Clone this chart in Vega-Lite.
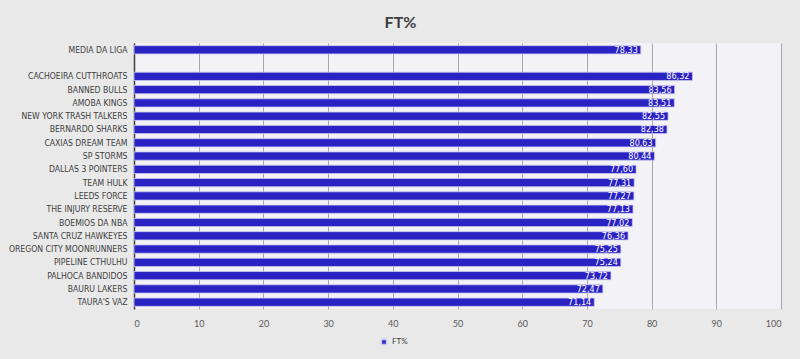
{
  "$schema": "https://vega.github.io/schema/vega-lite/v6.json",
  "autosize": {"type": "none"},
  "width": 647,
  "height": 266,
  "padding": {"left": 134, "top": 43, "right": 19, "bottom": 50},
  "background": "#e9e9e9",
  "config": {
    "locale": {"number": {"decimal": ",", "thousands": ".", "grouping": [3], "currency": ["", ""]}},
    "font": "Lato",
    "view": {"stroke": null, "fill": "#f3f3f7"}
  },
  "title": {
    "text": "FT%",
    "fontSize": 16,
    "fontWeight": "bold",
    "color": "#404040",
    "font": "Lato",
    "anchor": "middle",
    "dx": -57,
    "offset": 12
  },
  "data": {
    "values": [
      {"team": "MEDIA DA LIGA", "ft": 78.33},
      {"team": "CACHOEIRA CUTTHROATS", "ft": 86.32},
      {"team": "BANNED BULLS", "ft": 83.56},
      {"team": "AMOBA KINGS", "ft": 83.51},
      {"team": "NEW YORK TRASH TALKERS", "ft": 82.55},
      {"team": "BERNARDO SHARKS", "ft": 82.38},
      {"team": "CAXIAS DREAM TEAM", "ft": 80.63},
      {"team": "SP STORMS", "ft": 80.44},
      {"team": "DALLAS 3 POINTERS", "ft": 77.60},
      {"team": "TEAM  HULK", "ft": 77.31},
      {"team": "LEEDS FORCE", "ft": 77.27},
      {"team": "THE INJURY RESERVE", "ft": 77.13},
      {"team": "BOEMIOS DA NBA", "ft": 77.02},
      {"team": "SANTA CRUZ HAWKEYES", "ft": 76.36},
      {"team": "OREGON CITY MOONRUNNERS", "ft": 75.25},
      {"team": "PIPELINE CTHULHU", "ft": 75.24},
      {"team": "PALHOCA BANDIDOS", "ft": 73.72},
      {"team": "BAURU LAKERS", "ft": 72.47},
      {"team": "TAURA'S VAZ", "ft": 71.14}
    ]
  },
  "encoding": {
    "y": {
      "field": "team",
      "type": "nominal",
      "title": null,
      "scale": {
        "domain": ["MEDIA DA LIGA", " ", "CACHOEIRA CUTTHROATS", "BANNED BULLS", "AMOBA KINGS", "NEW YORK TRASH TALKERS", "BERNARDO SHARKS", "CAXIAS DREAM TEAM", "SP STORMS", "DALLAS 3 POINTERS", "TEAM  HULK", "LEEDS FORCE", "THE INJURY RESERVE", "BOEMIOS DA NBA", "SANTA CRUZ HAWKEYES", "OREGON CITY MOONRUNNERS", "PIPELINE CTHULHU", "PALHOCA BANDIDOS", "BAURU LAKERS", "TAURA'S VAZ"],
        "paddingInner": 0.38,
        "paddingOuter": 0.2
      },
      "axis": {
        "domain": true,
        "domainColor": "#404040",
        "domainWidth": 1.5,
        "ticks": false,
        "labelColor": "#404040",
        "labelFontSize": 8.6,
        "labelPadding": 7,
        "labelLimit": 0,
        "labelFont": "'DejaVu Sans Condensed', Lato"
      }
    },
    "x": {
      "field": "ft",
      "type": "quantitative",
      "title": null,
      "scale": {"domain": [0, 100], "nice": false},
      "axis": {
        "values": [0, 10, 20, 30, 40, 50, 60, 70, 80, 90, 100],
        "format": "d",
        "domain": false,
        "ticks": false,
        "grid": true,
        "gridColor": "#a8a8a8",
        "gridWidth": 1,
        "labelColor": "#595959",
        "labelFontSize": 9,
        "labelPadding": 10,
        "labelFont": "Lato"
      }
    }
  },
  "layer": [
    {
      "mark": {"type": "bar", "stroke": "#c8c8ee", "strokeWidth": 0.8},
      "encoding": {
        "color": {
          "datum": "FT%",
          "type": "nominal",
          "scale": {"range": ["#2b22c4"]},
          "legend": {
            "title": null,
            "orient": "none",
            "legendX": 246,
            "legendY": 295,
            "symbolType": "square",
            "symbolSize": 25,
            "labelFontSize": 8,
            "labelColor": "#404040",
            "labelFont": "Lato"
          }
        }
      }
    },
    {
      "mark": {"type": "text", "align": "right", "baseline": "middle", "dx": -3, "color": "white", "fontSize": 9, "font": "'DejaVu Sans Condensed', Lato"},
      "encoding": {
        "text": {"field": "ft", "type": "quantitative", "format": ".2f"}
      }
    }
  ]
}
